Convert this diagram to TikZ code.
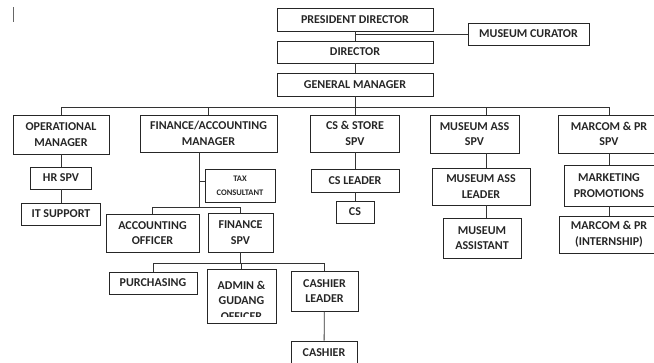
\documentclass[tikz,border=0pt]{standalone}
\usepackage{fontspec}
\setmainfont{Carlito}
\tikzset{
  box/.style={draw=black!85, line width=0.9pt, inner sep=0pt, align=center,
    font=\fontsize{12}{15.6}\selectfont\bfseries, text=black!85},
  sz/.style 2 args={minimum width=#1pt, minimum height=#2pt},
  link/.style={line width=0.8pt, draw=black!80},
}
\begin{document}
\begin{tikzpicture}[x=1pt,y=-1pt]
\useasboundingbox (0,0) rectangle (654,362);
\draw[line width=1pt,black!60](13,7)--(13,22);
% top of the chart
\node[box,sz={156}{23}] (pd) at (355,19.5){PRESIDENT DIRECTOR};
\node[box,sz={121}{22}] (cur) at (528.5,34){MUSEUM CURATOR};
\node[box,sz={156}{22}] (dir) at (355,52){DIRECTOR};
\node[box,sz={156}{23}] (gm) at (355,84.5){GENERAL MANAGER};
% first row
\node[box,sz={96}{39}] (op) at (61,134.5){OPERATIONAL\\MANAGER};
\node[box,sz={137}{37}] (fin) at (208.5,133.5){FINANCE/ACCOUNTING\\MANAGER};
\node[box,sz={89}{37}] (cs) at (355,133.5){CS \& STORE\\SPV};
\node[box,sz={89}{38}] (mus) at (474.5,134){MUSEUM ASS\\SPV};
\node[box,sz={102}{38}] (mar) at (609,134){MARCOM \& PR\\SPV};
% operational
\node[box,sz={61}{22}] (hr) at (61,178){HR SPV};
\node[box,sz={79}{22}] (it) at (61,214){IT SUPPORT};
% finance
\node[box,sz={70}{33},font=\fontsize{8.5}{14}\selectfont\bfseries] (tax) at (240,185.5){TAX\\CONSULTANT};
\node[box,sz={93}{38}] (acc) at (152.5,233){ACCOUNTING\\OFFICER};
\node[box,sz={65}{39}] (fspv) at (240.5,232.5){FINANCE\\SPV};
\node[box,sz={88}{22}] (pur) at (153,283){PURCHASING};
\node[box,sz={69}{54}] (adm) at (241.5,296){};
\begin{scope}
\clip (adm.north west) rectangle ([yshift=7pt]adm.south east);
\node[box,draw=none] (admtxt) at (241.5,300.5){ADMIN \&\\GUDANG\\OFFICER};
\end{scope}
\node[box,sz={67}{40}] (cl) at (324.5,291){CASHIER\\LEADER};
\node[box,sz={66}{23}] (cash) at (324,352.5){CASHIER};
% cs
\node[box,sz={88}{23}] (csl) at (355,180.5){CS LEADER};
\node[box,sz={38}{22}] (csx) at (355,212){CS};
% museum
\node[box,sz={98}{37}] (mal) at (481,186.5){MUSEUM ASS\\LEADER};
\node[box,sz={78}{40}] (mas) at (482,238){MUSEUM\\ASSISTANT};
% marcom
\node[box,sz={90}{41}] (mkt) at (609,185.5){MARKETING\\PROMOTIONS};
\node[box,sz={100}{37}] (mpi) at (609,234.5){MARCOM \& PR\\(INTERNSHIP)};
% connectors
\draw[link](pd)--(dir);
\draw[link](cur.west)--(cur.west -| pd.south);
\draw[link](dir)--(gm);
\coordinate (bus) at (355,107);
\draw[link](gm)--(bus);
\foreach \n in {op,fin,cs,mar}
  \draw[link](bus)-|(\n.north);
\coordinate (mx) at (486,0);
\draw[link](bus)-|(mx |- mus.north);
\draw[link](mx |- mus.south)--(mx |- mal.north);
\draw[link](mx |- mal.south)--(mx |- mas.north);
\draw[link](op)--(hr);
\draw[link](hr)--(it);
\coordinate (fx) at (199,207);
\draw[link](fin.south -| fx)--(fx);
\draw[link]([yshift=4.5pt]tax.west)--([yshift=4.5pt]tax.west -| fx);
\draw[link](fx)-|(acc.north);
\draw[link](fx)-|(fspv.north);
\coordinate (fb) at (240.5,263);
\draw[link](fspv)--(fb);
\foreach \n in {pur,adm,cl}
  \draw[link](fb)-|(\n.north);
\draw[link](cl)--(cash);
\draw[link](cs)--(csl);
\draw[link](csl)--(csx);
\draw[link](mar)--(mkt);
\draw[link](mkt)--(mpi);
\end{tikzpicture}
\end{document}
